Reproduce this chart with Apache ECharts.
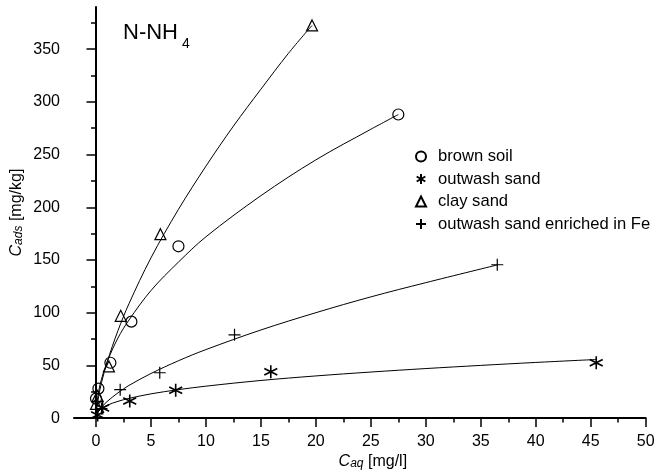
<!DOCTYPE html>
<html><head><meta charset="utf-8">
<script src="https://cdn.jsdelivr.net/npm/echarts@6/dist/echarts.min.js"></script>
<style>html,body{margin:0;padding:0;background:#fff}#c{width:667px;height:475px}</style>
</head><body><div id="c"></div>
<script>
const seriesNames = ['brown soil', 'outwash sand', 'clay sand', 'outwash sand enriched in Fe'];
const xMajorTicks = [0, 5, 10, 15, 20, 25, 30, 35, 40, 45, 50];
const xMinorTicks = [2.5, 7.5, 12.5, 17.5, 22.5, 27.5, 32.5, 37.5, 42.5, 47.5];
const yMajorTicks = [0, 50, 100, 150, 200, 250, 300, 350];
const yMinorTicks = [25, 75, 125, 175, 225, 275, 325, 375];

// measured points
const brownSoilX = [0.0, 0.22, 1.31, 3.22, 7.5, 27.5];
const brownSoilY = [18.5, 28, 52.5, 91.5, 163, 288];
const outwashX = [0.15, 0.6, 3.07, 7.25, 15.9, 45.5];
const outwashY = [3, 9.5, 16.2, 26.5, 44, 52.5];
const claySandX = [0.0, 0.15, 1.18, 2.25, 5.86, 19.65];
const claySandY = [13.5, 21, 49, 97, 174.5, 372.5];
const feX = [0.5, 2.2, 5.8, 12.6, 36.5];
const feY = [9, 27, 43, 79, 145.5];

// fitted curves
const brownFitX = [0.05, 0.25, 0.5, 1, 2, 3, 5, 7.5, 10, 15, 20, 25, 27.5];
const brownFitY = [11.5, 26, 37, 53, 76, 93, 121, 148, 172, 211, 245, 274, 288];
const clayFitX = [0.05, 0.25, 0.5, 1, 2, 3, 5, 7.5, 10, 12.5, 15, 17.5, 19.65];
const clayFitY = [7, 21, 33.5, 52.7, 83, 108.5, 152, 198, 239, 277, 312, 346, 372.5];
const feFitX = [0.05, 0.25, 0.5, 1, 2, 3, 5, 7.5, 10, 15, 20, 25, 30, 36.5];
const feFitY = [2.4, 6.6, 10.2, 15.6, 24, 31, 42.3, 54.4, 65, 83.6, 100, 115, 128.5, 145.3];
const outwashFitX = [0.05, 0.25, 0.5, 1, 2, 3, 5, 7.5, 10, 15, 20, 25, 30, 35, 40, 45.5];
const outwashFitY = [3.6, 6.9, 9.1, 12.1, 15.9, 18.7, 23, 27, 30.3, 35.7, 40, 43.7, 47, 50, 52.8, 55.6];

const zip = (xs, ys) => xs.map((x, i) => [x, ys[i]]);
const FONT = '"Liberation Sans", Arial, sans-serif';
const plusPath = 'path://M0,5L10,5M5,0L5,10';
const starPath = 'path://M5,0L5,10M0.67,2.5L9.33,7.5M0.67,7.5L9.33,2.5';

function scatter(name, xs, ys, symbol, size, bw) {
  return {
    type: 'scatter', name: name, data: zip(xs, ys), symbol: symbol, symbolSize: size,
    itemStyle: { color: 'transparent', borderColor: '#000', borderWidth: bw, opacity: 1 },
    z: 5
  };
}
function fit(name, xs, ys) {
  return {
    type: 'line', name: name, data: zip(xs, ys), symbol: 'none', smooth: 0.35,
    lineStyle: { color: '#000', width: 1 }, z: 3
  };
}

const chart = echarts.init(document.getElementById('c'), null, { renderer: 'canvas' });
chart.setOption({
  animation: false,
  backgroundColor: '#fff',
  grid: { left: 74, right: 21.3, top: 7, bottom: 51.7, containLabel: false },
  xAxis: [
    {
      type: 'value', min: -2, max: 50, position: 'bottom',
      name: '{i|C}{s|aq}{n| [mg/l]}', nameLocation: 'middle', nameGap: 24,
      nameTextStyle: { padding: [0, 0, 0, 26], rich: {
        i: { fontFamily: FONT, fontSize: 16, fontStyle: 'italic', color: '#000', padding: [0, 0, 4, 0] },
        s: { fontFamily: FONT, fontSize: 12, fontStyle: 'italic', color: '#000' },
        n: { fontFamily: FONT, fontSize: 16, color: '#000', padding: [0, 0, 4, 0] } } },
      axisLine: { show: true, lineStyle: { color: '#000', width: 2 } },
      axisTick: { show: true, customValues: xMajorTicks, length: 9, lineStyle: { color: '#000', width: 1.5 } },
      axisLabel: { customValues: xMajorTicks, margin: 15, fontFamily: FONT, fontSize: 16, color: '#000' },
      splitLine: { show: false }
    },
    {
      type: 'value', min: -2, max: 50, position: 'bottom',
      axisLine: { show: false },
      axisTick: { show: true, customValues: xMinorTicks, length: 4.5, lineStyle: { color: '#000', width: 1.5 } },
      axisLabel: { show: false },
      splitLine: { show: false }
    }
  ],
  yAxis: [
    {
      type: 'value', min: 0, max: 390, position: 'left',
      name: '{i|C}{s|ads}{n| [mg/kg]}', nameLocation: 'middle', nameGap: 45, nameRotate: 90,
      nameMoveOverlap: false,
      nameTextStyle: { rich: {
        i: { fontFamily: FONT, fontSize: 16, fontStyle: 'italic', color: '#000', padding: [0, 0, 4, 0] },
        s: { fontFamily: FONT, fontSize: 12, fontStyle: 'italic', color: '#000' },
        n: { fontFamily: FONT, fontSize: 16, color: '#000', padding: [0, 0, 4, 0] } } },
      axisLine: { show: true, lineStyle: { color: '#000', width: 2 } },
      axisTick: { show: true, customValues: yMajorTicks, length: 9.5, lineStyle: { color: '#000', width: 1.5 } },
      axisLabel: { customValues: yMajorTicks, margin: 14, fontFamily: FONT, fontSize: 16, color: '#000' },
      splitLine: { show: false }
    },
    {
      type: 'value', min: 0, max: 390, position: 'left',
      axisLine: { show: false },
      axisTick: { show: true, customValues: yMinorTicks, length: 5, lineStyle: { color: '#000', width: 1.5 } },
      axisLabel: { show: false },
      splitLine: { show: false }
    }
  ],
  legend: {
    data: seriesNames, orient: 'vertical', left: 410, top: 143,
    itemWidth: 10, itemHeight: 10, itemGap: 5.5,
    textStyle: { fontFamily: FONT, fontSize: 16.6, color: '#000', lineHeight: 17, padding: [0, 0, 0, 7] },
    selectedMode: false
  },
  graphic: [
    { type: 'text', left: 123, top: 22, style: { text: 'N-NH', fontSize: 22, fontFamily: FONT, fill: '#000' } },
    { type: 'text', left: 182, top: 37, style: { text: '4', fontSize: 14, fontFamily: FONT, fill: '#000' } }
  ],
  series: [
    fit('fit1', brownFitX, brownFitY),
    fit('fit2', outwashFitX, outwashFitY),
    fit('fit3', clayFitX, clayFitY),
    fit('fit4', feFitX, feFitY),
    scatter(seriesNames[0], brownSoilX, brownSoilY, 'circle', 11, 1.2),
    scatter(seriesNames[1], outwashX, outwashY, starPath, 13, 1.6),
    scatter(seriesNames[2], claySandX, claySandY, 'triangle', 11, 1.2),
    scatter(seriesNames[3], feX, feY, plusPath, 12, 1.2)
  ]
});
</script></body></html>
